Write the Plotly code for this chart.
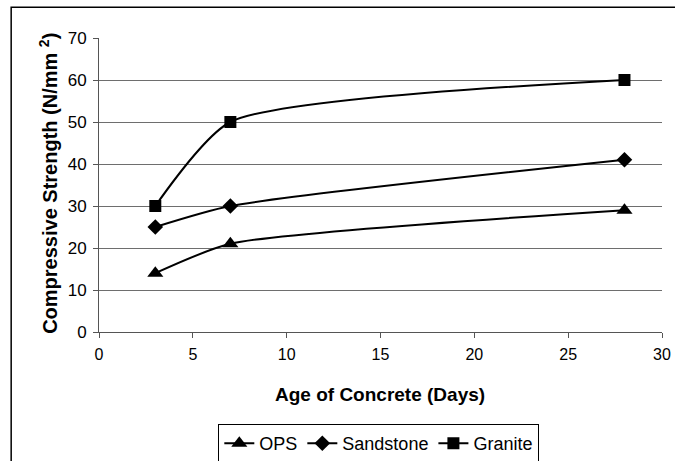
import plotly.graph_objects as go

# Age of concrete at test (days)
age_days = [3, 7, 28]

# Compressive strength (N/mm²) for each coarse aggregate type
ops = [14, 21, 29]
sandstone = [25, 30, 41]
granite = [30, 50, 60]

series = [
    ("OPS", ops, "triangle-up", 14),
    ("Sandstone", sandstone, "diamond", 12),
    ("Granite", granite, "square", 12),
]

FONT = "Arial, Liberation Sans, sans-serif"

fig = go.Figure()
for name, values, symbol, size in series:
    fig.add_trace(go.Scatter(
        x=age_days, y=values, name=name,
        mode="lines+markers",
        line=dict(color="black", width=2, shape="spline", smoothing=0.6),
        marker=dict(symbol=symbol, size=size, color="black"),
    ))

fig.update_layout(
    width=675, height=461,
    margin=dict(l=99, r=13, t=38, b=129, autoexpand=False),
    paper_bgcolor="white", plot_bgcolor="white",
    font=dict(family=FONT, size=16, color="black"),
    showlegend=True,
    legend=dict(
        orientation="h", x=0.497, y=-0.313, xanchor="center", yanchor="top",
        bordercolor="black", borderwidth=1, bgcolor="white",
        font=dict(family=FONT, size=18), itemwidth=30,
    ),
    xaxis=dict(
        range=[0, 30], dtick=5, showgrid=False, zeroline=False,
        showline=True, linecolor="#555555", linewidth=1,
        ticks="outside", ticklen=5, tickcolor="#555555",
        tickfont=dict(family=FONT, size=16), ticklabelstandoff=3,
        automargin=False,
    ),
    yaxis=dict(
        range=[0, 70], dtick=10, showgrid=True, gridcolor="#6e6e6e", gridwidth=1,
        zeroline=False, showline=True, linecolor="#555555", linewidth=1,
        ticks="outside", ticklen=5, tickcolor="#555555",
        tickfont=dict(family=FONT, size=17), ticklabelstandoff=3,
        automargin=False,
    ),
    annotations=[
        dict(text="<b>Age of Concrete (Days)</b>", xref="paper", yref="paper",
             x=0.499, y=-0.214, xanchor="center", yanchor="middle",
             showarrow=False, font=dict(family=FONT, size=19)),
        dict(text="<b>Compressive Strength (N/mm <sup>2</sup>)</b>",
             xref="paper", yref="paper", x=-0.09, y=0.505,
             xanchor="center", yanchor="middle", textangle=-90,
             showarrow=False, font=dict(family=FONT, size=20)),
    ],
    shapes=[dict(
        type="rect", xref="paper", yref="paper",
        x0=-0.156, x1=1.2, y0=-0.6, y1=1.105,
        line=dict(color="black", width=1.5), fillcolor="rgba(0,0,0,0)",
        layer="below",
    )],
)

fig.write_html("out.html")
